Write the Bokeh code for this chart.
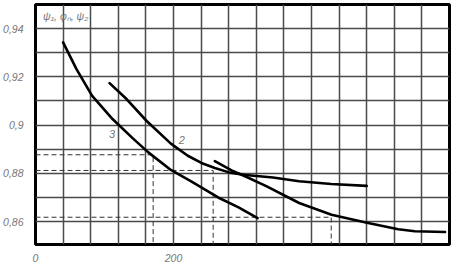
from bokeh.plotting import figure
from bokeh.models import Range1d, FixedTicker, Label
from bokeh.embed import file_html
from bokeh.resources import INLINE

# curve 3 (psi_1)
c3_x = [40, 59.4, 82.1, 112, 141.1, 163.5, 196.2, 225.6, 264.7, 294.3, 321.9]
c3_y = [0.9343, 0.9232, 0.9121, 0.9024, 0.8945, 0.8887, 0.8814, 0.8767, 0.8700, 0.8659, 0.8614]
# curve 2 (phi)
c2_x = [107.3, 132.3, 161.1, 196.2, 220.7, 240.4, 259.9, 281.8, 304.5, 344.1, 382.1, 428.6, 480]
c2_y = [0.9174, 0.9107, 0.9017, 0.8923, 0.8873, 0.8843, 0.8822, 0.8803, 0.8793, 0.8783, 0.8767, 0.8756, 0.8748]
# curve 1 (psi_2)
c1_x = [259.9, 284.2, 304.5, 334.4, 382.1, 429, 480.4, 525.7, 549.6, 593.6]
c1_y = [0.8851, 0.8812, 0.8787, 0.8747, 0.8677, 0.8628, 0.8595, 0.8568, 0.8560, 0.8557]

# dashed read-off lines
dash_x = [170.5, 257.5, 428.6]
dash_y = [0.8877, 0.8812, 0.8618]

x_ticks = [0, 200]
x_tick_labels = ["0", "200"]
y_ticks = [0.86, 0.88, 0.90, 0.92, 0.94]
y_tick_labels = ["0,86", "0,88", "0,9", "0,92", "0,94"]
x_grid = [40 * i for i in range(16)]
y_grid = [0.86, 0.87, 0.88, 0.89, 0.90, 0.91, 0.92, 0.93, 0.94]

X0, X1 = 0, 600
Y0, Y1 = 0.8505, 0.95

p = figure(width=457, height=264, output_backend="svg", toolbar_location=None,
           x_range=Range1d(X0, X1), y_range=Range1d(Y0, Y1),
           min_border_left=29, min_border_right=8, min_border_top=4, min_border_bottom=20)
p.background_fill_color = "white"
p.border_fill_color = "white"
p.outline_line_color = "black"
p.outline_line_width = 3

label_color = "#777777"
font = "Liberation Sans"

for ax in (p.xaxis[0], p.yaxis[0]):
    ax.axis_line_color = None
    ax.major_tick_line_color = None
    ax.minor_tick_line_color = None
    ax.major_label_text_color = label_color
    ax.major_label_text_font = font
    ax.major_label_text_font_style = "italic"
    ax.major_label_text_font_size = "10.5px"

p.xaxis[0].ticker = FixedTicker(ticks=x_ticks)
p.xaxis[0].major_label_overrides = {t: l for t, l in zip(x_ticks, x_tick_labels)}
p.xaxis[0].major_label_standoff = 3
p.yaxis[0].ticker = FixedTicker(ticks=y_ticks)
p.yaxis[0].major_label_overrides = {t: l for t, l in zip(y_ticks, y_tick_labels)}
p.yaxis[0].major_label_standoff = 6
p.yaxis[0].major_label_text_baseline = "top"

p.xgrid[0].ticker = FixedTicker(ticks=x_grid)
p.ygrid[0].ticker = FixedTicker(ticks=y_grid)
for g in (p.xgrid[0], p.ygrid[0]):
    g.grid_line_color = "#4a4a4a"
    g.grid_line_width = 1.5
    g.grid_line_alpha = 1.0

# dashed lines
xs, ys = [], []
for dx, dy in zip(dash_x, dash_y):
    xs.append([X0, dx, dx])
    ys.append([dy, dy, Y0 - 0.01])
p.multi_line(xs, ys, line_color="#333333", line_width=1, line_dash="5 3")

for cx, cy in ((c3_x, c3_y), (c2_x, c2_y), (c1_x, c1_y)):
    p.line(cx, cy, line_color="black", line_width=2.6, line_join="round", line_cap="round")

def lab(x, y, t, align="left", size="10.5px"):
    p.add_layout(Label(x=x, y=y, text=t, text_align=align, text_baseline="middle",
                       text_color=label_color, text_font=font, text_font_style="italic",
                       text_font_size=size))

lab(11, 0.9454, "ψ₁, φₙ, ψ₂", size="10.5px")
lab(111, 0.8962, "3", align="center", size="11px")
lab(212, 0.8940, "2", align="center", size="11px")
lab(600, 0.8457, "w₂₁, c₁₂, w₁₂, м/с", align="right", size="10.5px")

open("out.html", "w").write(file_html(p, INLINE))
